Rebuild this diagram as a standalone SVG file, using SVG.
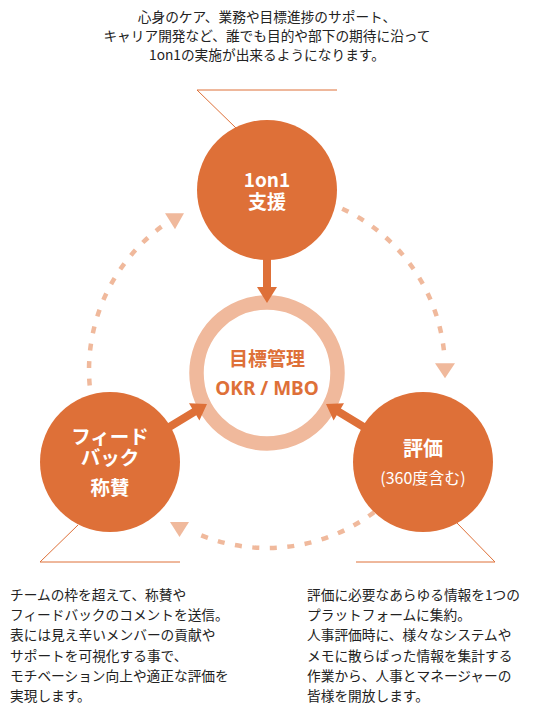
<svg xmlns="http://www.w3.org/2000/svg" width="534" height="711" viewBox="0 0 534 711">
<style>
.node{fill:#DE7038}
.lbl{font-family:"Noto Sans CJK JP","Noto Sans",sans-serif;fill:#ffffff;font-weight:bold;text-anchor:middle}
.desc{font-family:"Noto Sans CJK JP","Noto Sans",sans-serif;fill:#222222;font-size:13.7px}
.call{stroke:#DE7038;stroke-width:1;fill:none}
.dash{stroke:#F0B99C;stroke-width:4.5;fill:none;stroke-dasharray:7 10.5}
.head{fill:#F0B99C}
.arr{fill:#DE7038}
</style>
<rect width="534" height="711" fill="#ffffff"/>
<g id="top-text">
<text class="desc" x="267" y="21.5" text-anchor="middle">心身のケア、業務や目標進捗のサポート、</text>
<text class="desc" x="267" y="40.5" text-anchor="middle">キャリア開発など、誰でも目的や部下の期待に沿って</text>
<text class="desc" x="267" y="59.5" text-anchor="middle">1on1の実施が出来るようになります。</text>
</g>
<g id="center">
<circle cx="267" cy="373" r="70.5" fill="none" stroke="#F0B99C" stroke-width="14.5"/>
<text x="267" y="365.5" font-family="'Noto Sans CJK JP','Noto Sans',sans-serif" font-weight="bold" font-size="19" fill="#DE7038" text-anchor="middle">目標管理</text>
<text x="267" y="395" font-family="'Noto Sans','Noto Sans CJK JP',sans-serif" font-weight="bold" font-size="19" fill="#DE7038" text-anchor="middle">OKR / MBO</text>
</g>
<g id="connectors">
<path class="dash" d="M342.2,208.7 A178,178 0 0 1 444.3,354.5"/>
<polygon class="head" points="435,363.3 455,363.3 445,378.3"/>
<path class="dash" d="M374.1,512.2 A178,178 0 0 1 191.8,531.3"/>
<polygon class="head" points="170,522 189,522 179.5,537"/>
<path class="dash" d="M89.7,385.5 A178,178 0 0 1 162.4,226"/>
<polygon class="head" points="165,213.3 184,213.3 175,229.3"/>
<polygon class="arr" points="263,250 263,287 257,287 267,303 277,287 271,287 271,250"/>
<polygon class="arr" points="157.9,429.2 192.1,408.4 189,403.3 207,404 199.4,420.4 196.3,415.2 162.1,436"/>
<polygon class="arr" points="375.1,429.2 340.9,408.4 344,403.3 326,404 333.6,420.4 336.7,415.2 370.9,436"/>
<polyline class="call" points="337,90 197,90 236,128"/>
<polyline class="call" points="78,525 40,562 180,562"/>
<polyline class="call" points="457,523 495,562 356,562"/>
</g>
<g id="node-1on1">
<circle class="node" cx="267" cy="190" r="70"/>
<text class="lbl" x="267" y="187" font-size="19">1on1</text>
<text class="lbl" x="267" y="208.5" font-size="19">支援</text>
</g>
<g id="node-feedback">
<circle class="node" cx="110" cy="462" r="70"/>
<text class="lbl" x="110" y="444" font-size="19.5">フィード</text>
<text class="lbl" x="110" y="465" font-size="19.5">バック</text>
<text class="lbl" x="110" y="495" font-size="19.5">称賛</text>
</g>
<g id="node-eval">
<circle class="node" cx="423" cy="462" r="70"/>
<text class="lbl" x="423" y="456" font-size="20">評価</text>
<text x="423" y="483.5" font-family="'Noto Sans CJK JP','Noto Sans',sans-serif" font-size="16" fill="#ffffff" text-anchor="middle">(360度含む)</text>
</g>
<g id="left-text">
<text class="desc" x="10" y="600">チームの枠を超えて、称賛や</text>
<text class="desc" x="10" y="620.2">フィードバックのコメントを送信。</text>
<text class="desc" x="10" y="640.4">表には見え辛いメンバーの貢献や</text>
<text class="desc" x="10" y="660.6">サポートを可視化する事で、</text>
<text class="desc" x="10" y="680.8">モチベーション向上や適正な評価を</text>
<text class="desc" x="10" y="701">実現します。</text>
</g>
<g id="right-text">
<text class="desc" x="307" y="600">評価に必要なあらゆる情報を1つの</text>
<text class="desc" x="307" y="620.2">プラットフォームに集約。</text>
<text class="desc" x="307" y="640.4">人事評価時に、様々なシステムや</text>
<text class="desc" x="307" y="660.6">メモに散らばった情報を集計する</text>
<text class="desc" x="307" y="680.8">作業から、人事とマネージャーの</text>
<text class="desc" x="307" y="701">皆様を開放します。</text>
</g>
</svg>
